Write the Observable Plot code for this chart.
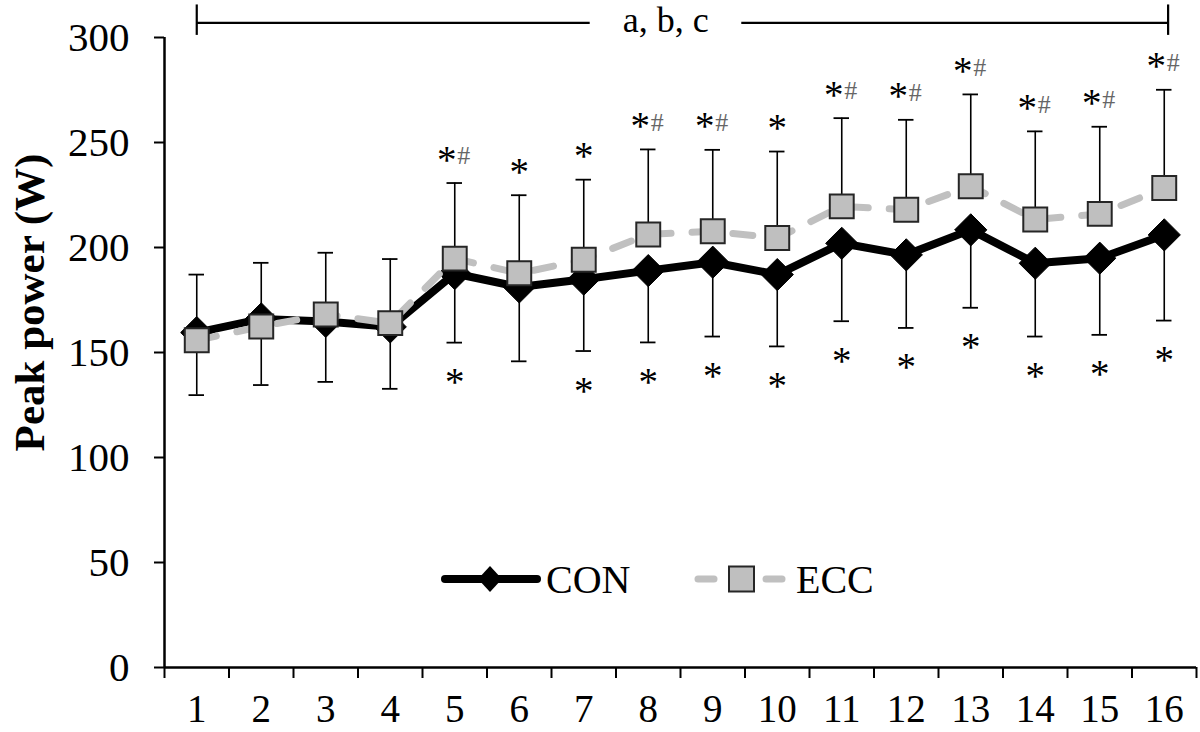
<!DOCTYPE html>
<html><head><meta charset="utf-8">
<script src="https://cdn.jsdelivr.net/npm/d3@7"></script>
<script src="https://cdn.jsdelivr.net/npm/@observablehq/plot@0.6"></script>
<style>
body{margin:0;background:#fff;}
#wrap{position:relative;width:1200px;height:732px;overflow:hidden;}
#wrap svg text{font-family:"Liberation Serif","Times New Roman",serif;}
#legend{position:absolute;left:0;top:0;pointer-events:none;}
</style></head><body><div id="wrap"></div>
<script>
// ---- data ----
const sessions = [1,2,3,4,5,6,7,8,9,10,11,12,13,14,15,16];
const conMean = [159.5,166,164.8,162.2,187.6,181.2,184.9,189,193,187.1,202,196.5,208.4,192.5,194.9,206];
const conSD   = [29.8,31.5,28.8,29.5,32.9,35.4,34.2,34.2,35.4,34.2,37.1,34.8,37.1,34.9,36.5,40.8];
const eccMean = [155.8,162.4,168.1,164,194.7,187.7,194.2,206.2,207.7,204.5,219.6,218,229.2,213.3,216,228.3];
const eccSD   = [31.3,30.3,29.4,30.5,36,37.2,38.1,40.5,38.8,41.2,42,42.8,43.7,42,41.5,46.8];
const aboveMarks = ["","","","","*#","*","*","*#","*#","*","*#","*#","*#","*#","*#","*#"];
const belowMarks = ["","","","","*","","*","*","*","*","*","*","*","*","*","*"];
const yTicks = [0,50,100,150,200,250,300];
const seriesNames = ["CON","ECC"];
const yTitle = "Peak power (W)";
const bracketLabel = "a, b, c";

// ---- build ----
const rows = sessions.map((s,i)=>({
  s, con: conMean[i], conLo: conMean[i]-conSD[i],
  ecc: eccMean[i], eccHi: eccMean[i]+eccSD[i],
  above: aboveMarks[i], below: belowMarks[i]
}));
const bounds = [...sessions.map(s=>s-0.5), sessions[sessions.length-1]+0.5];
const capHalf = 0.12;
const font = "Liberation Serif, Times New Roman, serif";
const bracketY = 307;

const chart = Plot.plot({
  width:1200, height:732,
  marginLeft:164, marginRight:4, marginTop:37, marginBottom:65,
  style:{fontFamily:font, fontSize:"40px", color:"#000", background:"#fff", overflow:"visible"},
  x:{type:"linear", domain:[bounds[0], bounds[bounds.length-1]]},
  y:{domain:[0,300]},
  marks:[
    Plot.axisY({ticks:yTicks, tickSize:10, tickPadding:25, label:null, fontSize:41, strokeWidth:2}),
    Plot.axisX({ticks:bounds, tickFormat:()=>"", tickSize:11, label:null, strokeWidth:2}),
    Plot.axisX({ticks:sessions, tickSize:0, tickPadding:27, tickFormat:d=>String(d), label:null, fontSize:39}),
    Plot.ruleX([bounds[0]], {strokeWidth:2.5}),
    Plot.ruleY([0], {strokeWidth:2.5}),
    // y title
    Plot.text([yTitle], {x:bounds[0], y:150, rotate:-90, dx:-134, dy:-50,
      fontSize:43, fontWeight:"bold", textAnchor:"middle", lineAnchor:"middle"}),
    // error bars
    Plot.ruleX(rows, {x:"s", y1:"ecc", y2:"eccHi", strokeWidth:1.6}),
    Plot.ruleX(rows, {x:"s", y1:"conLo", y2:"con", strokeWidth:1.6}),
    Plot.ruleY(rows, {y:"eccHi", x1:d=>d.s-capHalf, x2:d=>d.s+capHalf, strokeWidth:1.8}),
    Plot.ruleY(rows, {y:"conLo", x1:d=>d.s-capHalf, x2:d=>d.s+capHalf, strokeWidth:1.8}),
    // CON
    Plot.line(rows, {x:"s", y:"con", stroke:"#000", strokeWidth:8, strokeLinejoin:"round"}),
    Plot.dot(rows, {x:"s", y:"con", symbol:"diamond2", r:14.5, fill:"#000", stroke:"#000", strokeWidth:1}),
    // ECC
    Plot.line(rows, {x:"s", y:"ecc", stroke:"#c0c0c0", strokeWidth:7, strokeDasharray:"20,21", strokeLinecap:"round"}),
    Plot.dot(rows, {x:"s", y:"ecc", symbol:"square", r:13.5, fill:"#bfbfbf", stroke:"#262626", strokeWidth:2}),
    // significance marks
    Plot.text(rows.filter(d=>d.above==="*"), {x:"s", y:"eccHi", text:d=>d.above, dy:-23, fontSize:39, lineAnchor:"middle"}),
    Plot.text(rows.filter(d=>d.above==="*#"), {x:"s", y:"eccHi", text:d=>d.above.replace("#",""), dx:-8, dy:-23, fontSize:39, lineAnchor:"middle"}),
    Plot.text(rows.filter(d=>d.above==="*#"), {x:"s", y:"eccHi", text:d=>d.above.replace("*",""), dx:9, dy:-27, fontSize:26, fill:"#666", lineAnchor:"middle"}),
    Plot.text(rows.filter(d=>d.below==="*"), {x:"s", y:"conLo", text:d=>d.below, dy:40, fontSize:39, lineAnchor:"middle"}),
    // bracket a, b, c
    Plot.ruleY([bracketY], {x1:sessions[0], x2:7.1, strokeWidth:2.2}),
    Plot.ruleY([bracketY], {x1:9.45, x2:sessions[sessions.length-1] + 0.06, strokeWidth:2.2}),
    Plot.ruleX([sessions[0], sessions[sessions.length-1] + 0.06], {y1:301, y2:315.5, strokeWidth:2.2}),
    Plot.text([bracketLabel], {x:8.27, y:bracketY, dy:-2, fontSize:36, lineAnchor:"middle"})
  ]
});
const wrap = document.getElementById("wrap");
wrap.appendChild(chart);

// ---- legend overlay ----
const ns = "http://www.w3.org/2000/svg";
const lg = document.createElementNS(ns, "svg");
lg.setAttribute("id","legend"); lg.setAttribute("width",1200); lg.setAttribute("height",732);
function el(tag, attrs, text){const e=document.createElementNS(ns,tag);for(const k in attrs)e.setAttribute(k,attrs[k]);if(text)e.textContent=text;lg.appendChild(e);return e;}
const ly = 579;
el("line",{x1:445,y1:ly,x2:537,y2:ly,stroke:"#000","stroke-width":8,"stroke-linecap":"round"});
el("path",{d:`M490,${ly-13}L502,${ly}L490,${ly+13}L478,${ly}Z`,fill:"#000"});
el("text",{x:546,y:ly+14,"font-size":40,fill:"#000"},seriesNames[0]);
el("line",{x1:698,y1:ly,x2:714,y2:ly,stroke:"#c0c0c0","stroke-width":7,"stroke-linecap":"round"});
el("rect",{x:729,y:ly-12.5,width:25,height:25,fill:"#bfbfbf",stroke:"#262626","stroke-width":2});
el("line",{x1:766,y1:ly,x2:782,y2:ly,stroke:"#c0c0c0","stroke-width":7,"stroke-linecap":"round"});
el("text",{x:796,y:ly+14,"font-size":40,fill:"#000"},seriesNames[1]);
wrap.appendChild(lg);
</script></body></html>
